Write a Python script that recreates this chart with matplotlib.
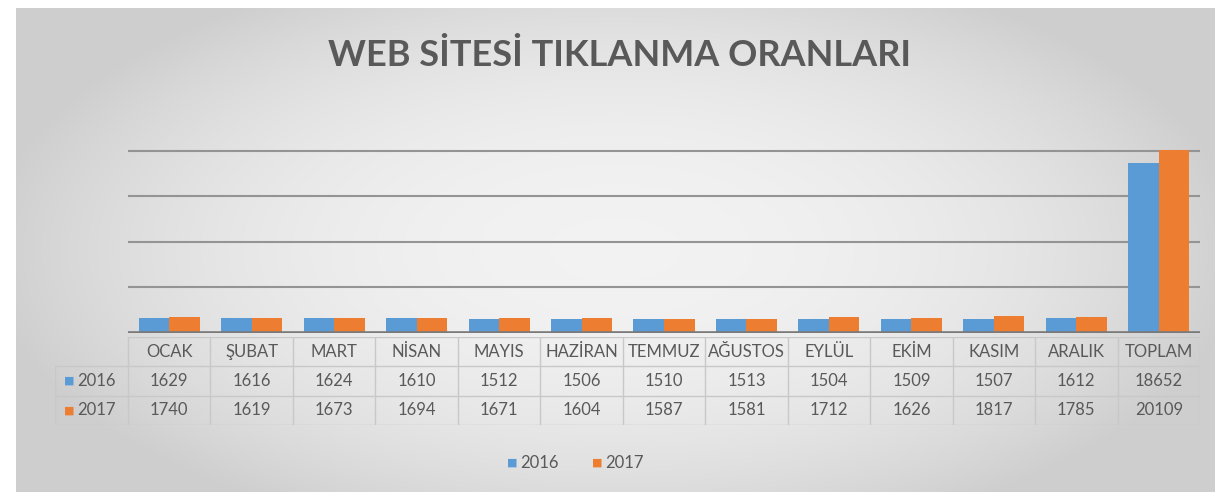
import numpy as np
import matplotlib
matplotlib.use("Agg")
import matplotlib.pyplot as plt

categories = ["OCAK", "ŞUBAT", "MART", "NİSAN", "MAYIS", "HAZİRAN", "TEMMUZ",
              "AĞUSTOS", "EYLÜL", "EKİM", "KASIM", "ARALIK", "TOPLAM"]
series_names = ["2016", "2017"]
values_2016 = [1629, 1616, 1624, 1610, 1512, 1506, 1510, 1513, 1504, 1509, 1507, 1612, 18652]
values_2017 = [1740, 1619, 1673, 1694, 1671, 1604, 1587, 1581, 1712, 1626, 1817, 1785, 20109]
gridline_values = [5000, 10000, 15000, 20000]
title = "WEB SİTESİ TIKLANMA ORANLARI"

colors = ["#5B9BD5", "#ED7D31"]
text_color = "#595959"
font = ["Lato", "DejaVu Sans"]

W, H = 1215, 492
fig = plt.figure(figsize=(W / 100, H / 100), dpi=100)
fig.patch.set_facecolor("white")

def fx(px):
    return px / W

def fy(py):
    return 1 - py / H

# background gradient
bg = fig.add_axes([fx(16), 0, fx(W - 16), fy(8)])
bg.set_axis_off()
yy, xx = np.mgrid[-1:1:300j, -1:1:700j]
r = np.sqrt((xx / 1.05) ** 2 + (yy / 1.25) ** 2)
r = np.clip(r, 0, 1)
shade = 0.95 - 0.14 * r ** 2.2
img = np.dstack([shade, shade, shade])
bg.imshow(img, aspect="auto", extent=[0, 1, 0, 1], interpolation="bicubic")
bg.set_xlim(0, 1)
bg.set_ylim(0, 1)

n = len(categories)
x = np.arange(n)
left_px, right_px = 128, 1200
top_px, base_px = 105, 333
ax = fig.add_axes([fx(left_px), fy(base_px), fx(right_px - left_px), fy(top_px) - fy(base_px)])
ax.set_facecolor("none")
bw = 0.37
ax.bar(x - bw / 2, values_2016, width=bw, color=colors[0], zorder=3)
ax.bar(x + bw / 2, values_2017, width=bw, color=colors[1], zorder=3)
ax.set_xlim(-0.5, n - 0.5)
ax.set_ylim(0, 25000)
for g in gridline_values:
    ax.axhline(g, color="#949494", lw=1.5, zorder=1)
ax.axhline(0, color="#7a7a7a", lw=2.6, zorder=4)
for s in ax.spines.values():
    s.set_visible(False)
ax.set_xticks([])
ax.set_yticks([])

# title
fig.text(fx(620), fy(56), title, ha="center", va="center", fontsize=26,
         fontweight="bold", color="#595959", family=font)

# data table
col_w = (right_px - left_px) / n
lab_left = 55
tab = fig.add_axes([fx(lab_left), fy(425), fx(right_px - lab_left), fy(337) - fy(425)])
tab.set_axis_off()
xl = -0.5 - (left_px - lab_left) / col_w
tab.set_xlim(xl, n - 0.5)
tab.set_ylim(3, 0)
border = "#c8c8c8"
tab.plot([-0.5, n - 0.5], [0, 0], color=border, lw=1)
for yv in [1, 2, 3]:
    tab.plot([xl, n - 0.5], [yv, yv], color=border, lw=1)
for i in range(n + 1):
    tab.plot([i - 0.5, i - 0.5], [0, 3], color=border, lw=1)
tab.plot([xl, xl], [1, 3], color=border, lw=1)

fs = 12
for i, c in enumerate(categories):
    tab.text(i, 0.5, c, ha="center", va="center", fontsize=fs, color=text_color, family=font)
    tab.text(i, 1.5, str(values_2016[i]), ha="center", va="center", fontsize=fs,
             color=text_color, family=font)
    tab.text(i, 2.5, str(values_2017[i]), ha="center", va="center", fontsize=fs,
             color=text_color, family=font)
for j, (name, col) in enumerate(zip(series_names, colors)):
    tab.text(xl + 0.17, 1.5 + j, "■", ha="center", va="center", fontsize=8, color=col,
             family=["DejaVu Sans"])
    tab.text(xl + 0.27, 1.5 + j, name, ha="left", va="center", fontsize=fs,
             color=text_color, family=font)

# legend
leg_y = fy(463)
for name, col, px in zip(series_names, colors, [512, 597]):
    fig.text(fx(px), leg_y, "■", ha="center", va="center", fontsize=8, color=col,
             family=["DejaVu Sans"])
    fig.text(fx(px + 8), leg_y, name, ha="left", va="center", fontsize=12,
             color=text_color, family=font)

fig.savefig("out.png", dpi=100, facecolor="white")
